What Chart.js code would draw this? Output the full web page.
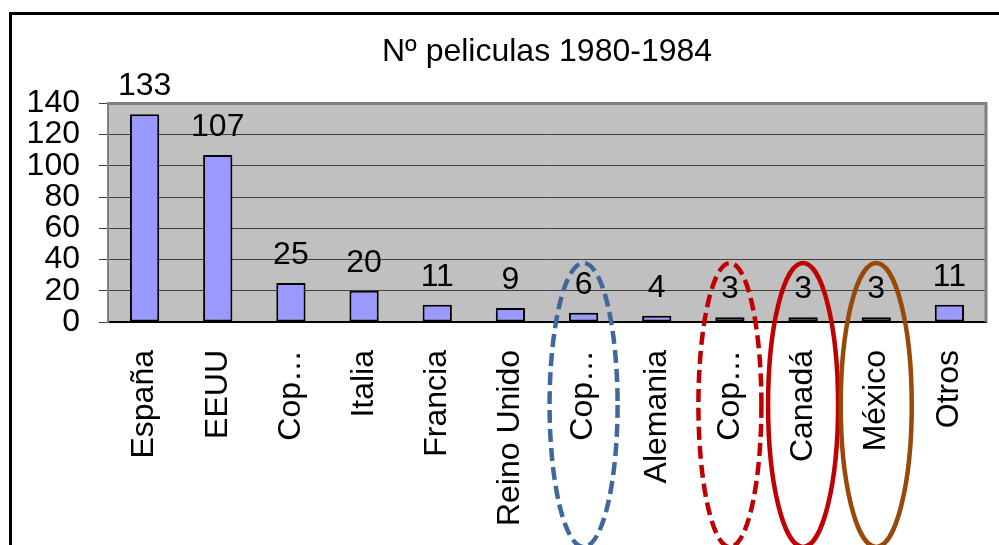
<!DOCTYPE html>
<html><head><meta charset="utf-8">
<script src="https://cdn.jsdelivr.net/npm/chart.js@4/dist/chart.umd.min.js"></script>
<style>html,body{margin:0;padding:0;background:#fff;overflow:hidden}#wrap{position:relative;width:999px;height:545px}</style>
</head><body><div id="wrap"><canvas id="c" width="999" height="545"></canvas></div>
<script>
const titleText = 'Nº peliculas 1980-1984';
const categories = ['España','EEUU','Cop…','Italia','Francia','Reino Unido','Cop…','Alemania','Cop…','Canadá','México','Otros'];
const peliculas = [133,107,25,20,11,9,6,4,3,3,3,11];
const yTickValues = [0,20,40,60,80,100,120,140];
const highlightIndex = [6,8,9,10];

const FONT = "'Liberation Sans', Arial, sans-serif";
const FS = 32;

const ellipseStyles = [
  {color:'#41689c', dash:[13,6], rx:34},
  {color:'#c00000', dash:[13,6], rx:31.5},
  {color:'#c00000', dash:[], rx:35},
  {color:'#984807', dash:[], rx:35.5}
];

const bgPlugin = {
  id:'bg',
  beforeDraw(chart){
    const {ctx, chartArea:a} = chart;
    ctx.save();
    ctx.fillStyle = '#ffffff';
    ctx.fillRect(0,0,chart.width,chart.height);
    ctx.fillStyle = '#c0c0c0';
    ctx.fillRect(a.left, a.top, a.right-a.left, a.bottom-a.top);
    ctx.lineWidth = 3;
    ctx.strokeStyle = '#000';
    ctx.strokeRect(10.5, 13.5, chart.width+20, chart.height+20);
    ctx.restore();
  },
  beforeDatasetsDraw(chart){
    const {ctx, chartArea:a} = chart;
    ctx.save();
    ctx.strokeStyle = '#808080';
    ctx.lineWidth = 3;
    ctx.beginPath();
    ctx.moveTo(a.left, a.top);
    ctx.lineTo(a.right, a.top);
    ctx.lineTo(a.right, a.bottom);
    ctx.stroke();
    ctx.restore();
  }
};

const labelPlugin = {
  id:'vals',
  afterDatasetsDraw(chart){
    const {ctx} = chart;
    const meta = chart.getDatasetMeta(0);
    ctx.save();
    ctx.font = FS + 'px ' + FONT;
    ctx.fillStyle = '#000';
    ctx.textAlign = 'center';
    ctx.textBaseline = 'alphabetic';
    meta.data.forEach((el,i)=>{
      ctx.fillText(String(peliculas[i]), el.x, el.y - 19);
    });
    ctx.restore();
  }
};

const ellipsePlugin = {
  id:'ellipses',
  afterDraw(chart){
    const {ctx} = chart;
    const xs = chart.scales.x;
    ctx.save();
    ctx.lineWidth = 4.5;
    highlightIndex.forEach((idx,k)=>{
      const s = ellipseStyles[k];
      const cx = xs.getPixelForValue(idx);
      const top = 263, bottom = 547;
      ctx.strokeStyle = s.color;
      ctx.setLineDash(s.dash);
      ctx.beginPath();
      ctx.ellipse(cx, (top+bottom)/2, s.rx, (bottom-top)/2, 0, 0, Math.PI*2);
      ctx.stroke();
    });
    ctx.restore();
  }
};

new Chart(document.getElementById('c'), {
  type:'bar',
  data:{
    labels: categories,
    datasets:[{
      data: peliculas,
      backgroundColor:'#9999ff',
      borderColor:'#000000',
      borderWidth:2,
      borderSkipped:false,
      barPercentage:0.4,
      categoryPercentage:1
    }]
  },
  options:{
    responsive:false,
    animation:false,
    devicePixelRatio:1,
    layout:{padding:{left:0,right:13,top:0,bottom:0}},
    plugins:{
      legend:{display:false},
      tooltip:{enabled:false},
      title:{
        display:true,
        text:titleText,
        fullSize:false,
        color:'#000',
        font:{family:FONT,size:FS,weight:'normal',lineHeight:1.2},
        padding:{top:33,bottom:32}
      }
    },
    scales:{
      x:{
        grid:{display:false, drawTicks:false},
        border:{display:true,color:'#000',width:2},
        ticks:{
          color:'#000',
          font:{family:FONT,size:FS},
          minRotation:90,
          maxRotation:90,
          autoSkip:false,
          padding:28
        },
        afterFit(scale){ scale.height = 545 - 322; scale.paddingLeft = 0; scale.paddingRight = 0; }
      },
      y:{
        min:0,max:140,
        afterBuildTicks(scale){ scale.ticks = yTickValues.map(v=>({value:v})); },
        grid:{color:'#404040',lineWidth:1,drawTicks:true,tickLength:9,tickColor:'#404040'},
        border:{display:true,color:'#808080',width:2},
        ticks:{
          color:'#000',
          font:{family:FONT,size:FS},
          autoSkip:false,
          padding:19
        },
        afterFit(scale){ scale.width = 108; scale.paddingTop = 0; scale.paddingBottom = 0; }
      }
    }
  },
  plugins:[bgPlugin,labelPlugin,ellipsePlugin]
});
</script>
</body></html>
